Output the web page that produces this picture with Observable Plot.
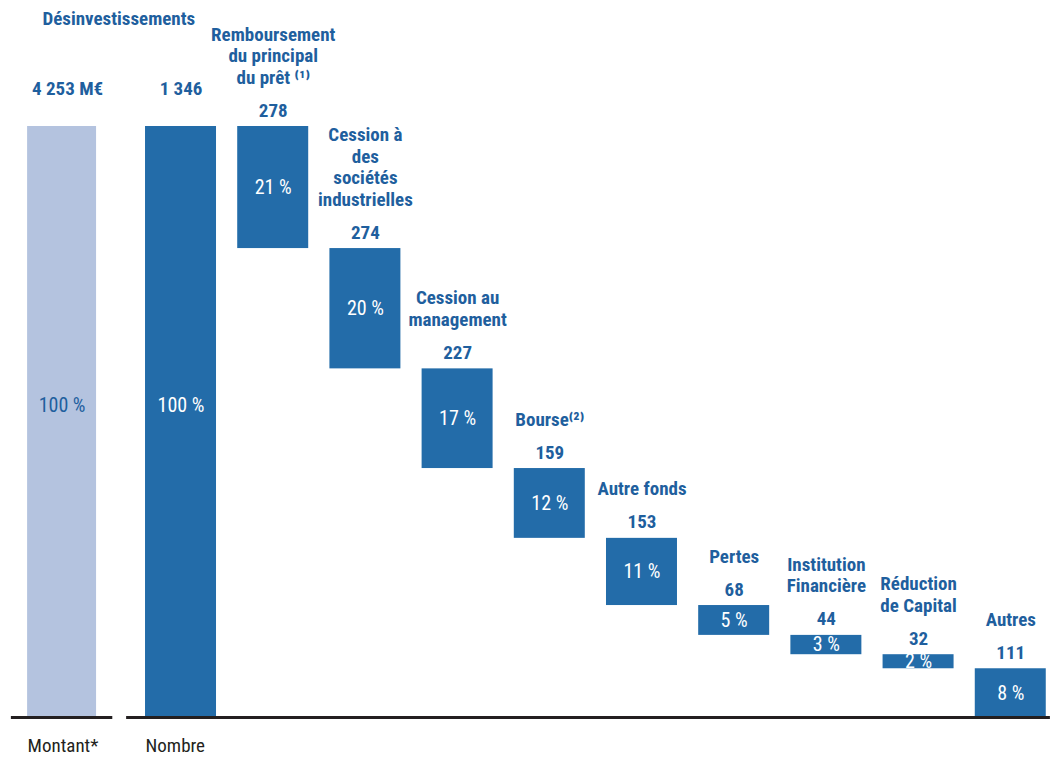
<!DOCTYPE html>
<html>
<head>
<meta charset="utf-8">
<script src="https://cdn.jsdelivr.net/npm/d3@7"></script>
<script src="https://cdn.jsdelivr.net/npm/@observablehq/plot@0.6"></script>
<style>
  html, body { margin: 0; padding: 0; background: #fff; }
  #chart svg { display: block; }
</style>
</head>
<body>
<div id="chart"></div>
<script>
// ---- Data ----
const headerTitle = "Désinvestissements";
const totalLabels = ["Montant*", "Nombre"];
const totalValues = ["4 253 M€", "1 346"];
const totalCount = 1346;
const totalPercent = "100 %";
const stepCategories = [
  "Remboursement\ndu principal\ndu prêt ⁽¹⁾",
  "Cession à\ndes\nsociétés\nindustrielles",
  "Cession au\nmanagement",
  "Bourse⁽²⁾",
  "Autre fonds",
  "Pertes",
  "Institution\nFinancière",
  "Réduction\nde Capital",
  "Autres"
];
const stepValues = [278, 274, 227, 159, 153, 68, 44, 32, 111];
const stepPercents = [21, 20, 17, 12, 11, 5, 3, 2, 8];

// ---- Layout helpers (slots) ----
const montantSlot = -1.29;
const half = 0.385;
const FONT = "'Liberation Sans Narrow', 'Roboto Condensed', 'Arial Narrow', 'Liberation Sans', sans-serif";
const BLUE = "#236ca9";
const LIGHT = "#b4c3df";
const TXT = "#1f5f9e";
const DARK = "#231f20";
const FS = 19;
const PFS = 20;

// Totals table
const totals = totalLabels.map((name, i) => ({
  name, value: totalValues[i], slot: i === 0 ? montantSlot : 0,
  y1: 0, y2: totalCount, fill: i === 0 ? LIGHT : BLUE, pctColor: i === 0 ? TXT : "#fff"
}));

// Waterfall table
let running = totalCount;
const steps = stepCategories.map((cat, i) => {
  const top = running;
  running -= stepValues[i];
  return { cat, value: stepValues[i], pct: stepPercents[i] + " %", slot: i + 1, top, bottom: running };
});

const baseRules = [
  { x1: montantSlot - 0.55, x2: montantSlot + 0.55 },
  { x1: -0.59, x2: 9.43 }
];

const plot = Plot.plot({
  width: 1050,
  height: 757,
  marginTop: 0, marginBottom: 0, marginLeft: 0, marginRight: 0,
  x: { type: "linear", domain: [-1.958, 9.431], range: [0, 1050], axis: null },
  y: { domain: [0, totalCount], range: [717, 126], axis: null },
  style: { fontFamily: FONT, fontSize: FS + "px", overflow: "visible", background: "#fff" },
  marks: [
    // total bars
    Plot.rectY(totals, { x1: d => d.slot - (d.slot === montantSlot ? 0.374 : half), x2: d => d.slot + (d.slot === montantSlot ? 0.374 : half), y1: "y1", y2: "y2", fill: d => d.fill }),
    // waterfall bars
    Plot.rectY(steps, { x1: d => d.slot - half, x2: d => d.slot + half, y1: "bottom", y2: "top", fill: BLUE }),
    // baseline
    Plot.ruleY(baseRules, { x1: "x1", x2: "x2", y: 0, stroke: DARK, strokeWidth: 3 }),
    // header title
    Plot.text([headerTitle], { x: (montantSlot + 0) / 2 - 0.03, y: totalCount, dy: -102, text: d => d, lineAnchor: "bottom", fill: TXT, fontWeight: "bold", fontSize: FS }),
    // totals values
    Plot.text(totals, { x: d => d.slot + (d.slot === montantSlot ? 0.06 : 0), y: "y2", dy: -32, text: "value", lineAnchor: "bottom", fill: TXT, fontWeight: "bold", fontSize: FS }),
    // totals percent
    Plot.text(totals, { x: "slot", y: totalCount / 2, dy: -16, text: () => totalPercent, fill: d => d.pctColor, fontSize: PFS }),
    // bottom labels
    Plot.text(totals, { x: d => d.slot - (d.slot === montantSlot ? 0.374 : half), y: 0, dy: 34, text: "name", textAnchor: "start", lineAnchor: "bottom", fill: DARK, fontSize: FS }),
    // step value labels
    Plot.text(steps, { x: "slot", y: "top", dy: -10, text: d => String(d.value), lineAnchor: "bottom", fill: TXT, fontWeight: "bold", fontSize: FS }),
    // step category labels
    Plot.text(steps, { x: "slot", y: "top", dy: -43, text: "cat", lineAnchor: "bottom", lineHeight: 1.13, fill: TXT, fontWeight: "bold", fontSize: FS }),
    // step percent labels
    Plot.text(steps, { x: "slot", y: d => (d.top + d.bottom) / 2, text: "pct", fill: "#fff", fontSize: PFS })
  ]
});
document.getElementById("chart").appendChild(plot);
</script>
</body>
</html>
